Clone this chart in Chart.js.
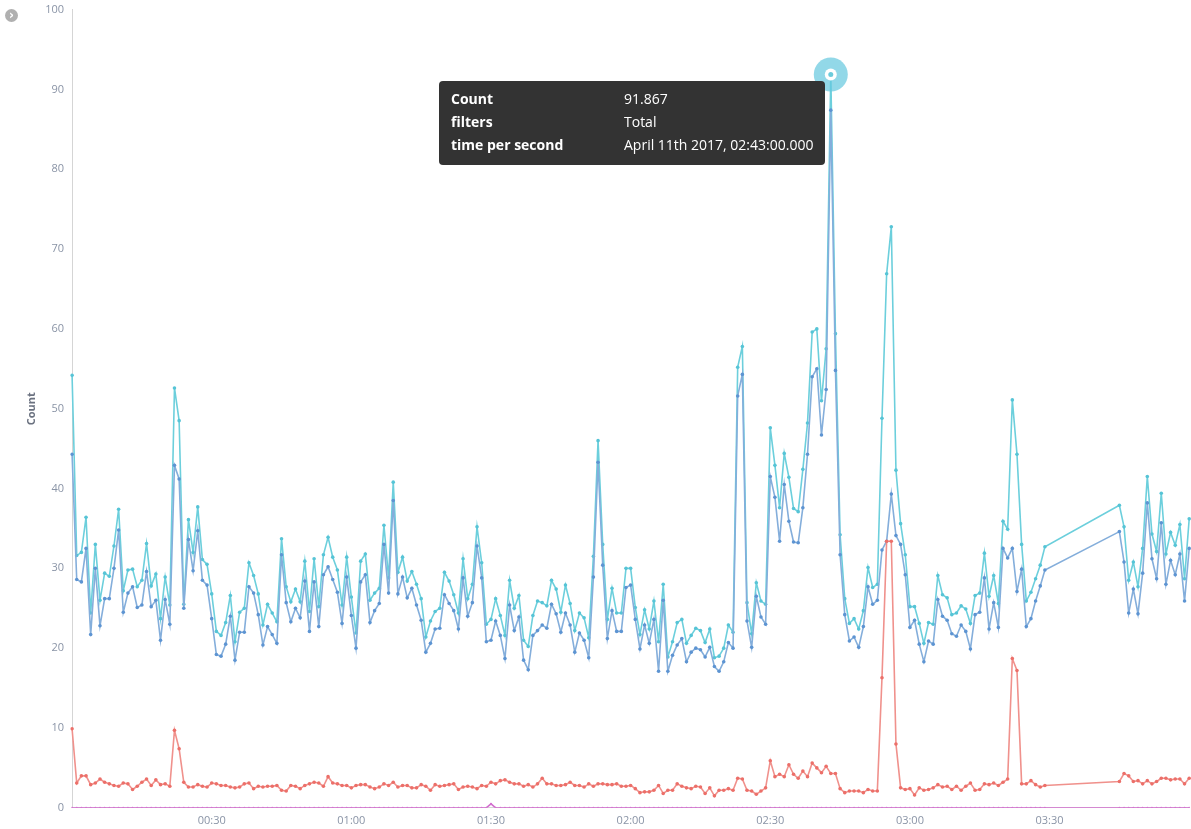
<!DOCTYPE html>
<html>
<head>
<meta charset="utf-8">
<script src="https://cdn.jsdelivr.net/npm/chart.js@4/dist/chart.umd.min.js"></script>
<style>
  html, body { margin: 0; padding: 0; background: #fff; }
  #wrap { position: relative; width: 1191px; height: 829px; }
  #toggle { position: absolute; left: 5px; top: 9px; width: 13px; height: 13px; border-radius: 50%;
    background: #b0b0b0; color: #fff; font: bold 12px "DejaVu Sans", sans-serif; text-align: center; line-height: 12px; }
</style>
</head>
<body>
<div id="wrap">
  <canvas id="myChart" width="1191" height="829"></canvas>
  <div id="toggle">&#8250;</div>
</div>
<script>
// one value per minute, 00:00 -> 04:00, null = no data
const total = [
  54.2,31.6,32,36.4,24.4,33,26,29.4,29,32.8, 37.4,27.2,29.8,29.9,27.7,28.5,33.1,27.8,29.3,23.7,
  28.9,25.4,52.6,48.5,25.5,36.1,32,37.7,31.1,30.5, 26.8,22.1,21.6,23.2,26.6,20.8,24.5,25,30.7,29.1,
  26.8,22.9,25.5,
  24.4,23.3,33.7,27.7,25.8,27.4,25.8,30.9,24.6,31.2, 25.2,31.7,33.9,31.4,29.8,25.4,31.4,26.4,21.9,30.9,
  31.8,26,26.9,27.5,35.4,28.8,40.8,29.5,31.4,28.4, 29.6,28,26.2,21.4,23.4,24.6,25,29.5,28.4,26.7,24.4,
  31.2,26.2,28,35.2,30.7,23,23.6,26.2,24.1,21.6, 28.5,25,26.6,21,20.2,24.1,25.9,25.7,25.3,28.5,
  27.4,24.5,27.9,25.6,22.2,24.4,23.8,21.3,31.5,46, 33,23.6,27.5,24.4,24.4,30,30,25.1,21.7,24.8,
  22.4,25.9,
  20.8,28,18.9,20.8,23.2,23.6,20.6,21.6,22.5,22.2, 20.7,22.4,18.8,19,20,22.9,22,55.2,57.8,25.7,
  21.8,28.2,25.9,25.5,47.6,42.9,37.6,44.4,41.4,37.5, 37.1,42.4,48.2,59.6,60,51,57.5,
  91.867,59.4,34.2,
  26.2,23.1,23.7,22.4,24.7,30.1,27.6,28,48.8,66.9, 72.8,42.3,35.6,31.7,25.2,25.2,23.1,20.6,23.2,23,
  29.1,26.7,26.3,24.2,24.4,25.3,24.9,23.1,26.6,26.9, 31.9,26.5,29.1,25.6,35.9,
  34.9,51.1,44.3,33,25.9,27,28.7,30.4,32.7,
  null,null,null,null,null,null,null,null,null,null,null,null,null,null,null,
  37.9,35.2,28.5,30.8,27.7,32.5,41.5,34.3,32.1,39.4,31.8,34.5,32.9,35.5,28.7,36.2
];
const success = [
  44.3,28.6,28.3,32.5,21.7,30,22.8,26.2,26.2,30, 34.8,24.5,26.9,27.7,25.1,25.4,29.6,25.2,26,21,
  26.1,23,42.9,41.2,25,33.6,29.7,34.7,28.5,27.9, 23.7,19.2,19,20.5,24,18.5,22,22,27.7,26.9,
  24.2,20.4,22.7,
  21.7,20.6,31.7,25.7,23.3,25,23.8,28.4,22.1,28.3, 22.7,29.2,30.2,28.6,27,23.1,28.9,24.1,20,28.3,
  29.2,23.2,24.7,25.6,33,26.9,38.5,26.8,28.9,26.3, 27.5,25.4,23.5,19.5,20.6,22.4,22.5,26.7,25.6,24.7,22.4,
  28.8,24,25.7,32.8,28.8,20.8,21,23.4,21.6,18.7, 25.4,22.2,23.9,18.5,17.3,21.6,22.2,22.9,22.5,25.5,
  24.3,22,24.4,22.9,19.5,21.9,21,18.8,28.9,43.3, 30.4,21.2,24.7,22.1,22.1,27.6,27.9,23.6,19.9,22.9,
  20.6,23.6,
  17.1,26,17.1,19.1,20.4,21.2,18.3,19.5,20,19.8, 18.9,20.1,17.7,17.1,18.3,20.7,20,51.6,54.3,23.4,
  20.1,26.5,23.9,23,41.5,38.9,33.4,40.5,35.9,33.3, 33.2,37.6,44.3,54,55,46.7,52.4,
  87.4,54.8,31.7,
  24.2,20.9,21.4,20.1,22.7,27.7,25.5,26,32.3,33.4, 39.3,34.1,33,29.2,22.6,23.5,20.5,18.3,20.9,20.5,
  26.1,24,23.5,21.8,21.5,22.9,22.1,19.9,24.2,24.5, 28.8,22.4,25.7,22.6,32.5,
  31.3,32.5,27.1,29.9,22.7,23.7,25.9,27.8,29.8,
  null,null,null,null,null,null,null,null,null,null,null,null,null,null,null,
  34.6,30.8,24.4,27.4,24.3,29.4,38.2,31.2,28.7,35.7,28,31,29.2,31.8,25.9,32.5
];
const errors = [
  9.9,3.1,4,4,2.9,3.1,3.6,3.2,3,2.8, 2.7,3.1,3,2.3,2.7,3.2,3.6,2.8,3.5,2.9,
  3,2.7,9.7,7.4,3.2,2.6,2.6,2.9,2.7,2.6, 3.1,3,2.8,2.8,2.6,2.5,2.6,3,3.1,2.4,
  2.7,2.6,2.7,
  2.7,2.8,2.2,2.1,2.8,2.7,2.4,2.8,3.0,3.2, 3.1,2.7,3.9,3.1,3.0,2.8,2.8,2.5,2.8,2.9,
  2.9,2.6,2.4,2.6,3.0,2.8,3.2,2.6,2.8,2.8, 2.5,2.5,2.9,2.7,2.2,2.9,2.7,2.8,2.9,3.0,2.3,
  2.6,2.7,2.6,2.4,2.8,2.7,3.2,3.0,3.4,3.5, 3.2,3.0,3.0,2.7,2.9,2.6,3.0,3.7,3.0,3.0,
  2.8,2.8,2.9,3.2,2.8,2.8,2.6,3.0,2.7,3.0, 3.0,2.9,2.9,3.0,2.7,2.7,2.8,2.4,1.9,2.0,
  2.0,2.2,
  2.8,1.8,2.2,2.2,3.0,2.7,2.5,2.4,2.7,2.6, 1.8,2.5,1.5,2.2,2.2,2.4,2.2,3.7,3.6,2.2,
  2.1,1.7,2.1,2.5,5.9,3.9,4.2,3.9,5.4,4.2, 3.7,4.6,3.9,5.6,5.0,4.4,5.2,4.3,4.3,2.4,
  1.9,2.1,2.1,2.1,1.9,2.3,2.1,2.1,16.3,33.4, 33.4,8,2.5,2.3,2.4,1.6,2.5,2.2,2.3,2.5,
  2.9,2.6,2.7,2.3,2.7,2.2,2.7,3.1,2.2,2.3, 3,2.9,3.1,2.8,3.2,
  3.6,18.7,17.2,3,3,3.4,2.9,2.6,2.8,
  null,null,null,null,null,null,null,null,null,null,null,null,null,null,null,
  3.3,4.3,4,3.3,3.4,3,3.4,3,3.3,3.7,3.7,3.5,3.6,3.6,3,3.7
];
const timeouts = [
  0,0,0,0,0,0,0,0,0,0, 0,0,0,0,0,0,0,0,0,0, 0,0,0,0,0,0,0,0,0,0, 0,0,0,0,0,0,0,0,0,0,
  0,0,0,0,0,0,0,0,0,0, 0,0,0,0,0,0,0,0,0,0, 0,0,0,0,0,0,0,0,0,0, 0,0,0,0,0,0,0,0,0,0,
  0,0,0,0,0,0,0,0,0,0, 0.5,0,0,0,0,0,0,0,0,0, 0,0,0,0,0,0,0,0,0,0, 0,0,0,0,0,0,0,0,0,0,
  0,0,0,0,0,0,0,0,0,0, 0,0,0,0,0,0,0,0,0,0, 0,0,0,0,0,0,0,0,0,0, 0,0,0,0,0,0,0,0,0,0,
  0,0,0,0,0,0,0,0,0,0, 0,0,0,0,0,0,0,0,0,0, 0,0,0,0,0,0,0,0,0,0, 0,0,0,0,0,0,0,0,0,0,
  0,0,0,0,0,0,0,0,0,0,
  null,null,null,null,null,null,null,null,null,null,null,null,null,null,null,
  0,0,0,0,0,0,0,0,0,0,0,0,0,0,0,0
];
const tickLabels = ['00:30', '01:00', '01:30', '02:00', '02:30', '03:00', '03:30'];
const peakIndex = 163;
const tipRows = [
  ['Count', '91.867'],
  ['filters', 'Total'],
  ['time per second', 'April 11th 2017, 02:43:00.000']
];

// category labels, one per minute
const labels = [];
for (let i = 0; i < total.length; i++) {
  const h = Math.floor(i / 60), m = i % 60;
  labels.push(String(h).padStart(2, '0') + ':' + String(m).padStart(2, '0'));
}

function series(label, data, line, dot, radius) {
  return {
    label: label, data: data, borderColor: line, backgroundColor: dot,
    pointBackgroundColor: dot, pointBorderColor: dot, pointBorderWidth: 0,
    borderWidth: 1.6, pointRadius: radius, pointHoverRadius: radius,
    tension: 0, spanGaps: true
  };
}

// highlighted point + fixed tooltip box
const peakTip = {
  id: 'peakTip',
  afterDatasetsDraw(chart) {
    const ctx = chart.ctx;
    const pt = chart.getDatasetMeta(3).data[peakIndex];
    ctx.save();
    ctx.beginPath();
    ctx.arc(pt.x, pt.y, 17, 0, Math.PI * 2);
    ctx.fillStyle = 'rgba(100, 200, 222, 0.7)';
    ctx.fill();
    ctx.beginPath();
    ctx.arc(pt.x, pt.y, 6, 0, Math.PI * 2);
    ctx.fillStyle = '#fff';
    ctx.fill();
    ctx.beginPath();
    ctx.arc(pt.x, pt.y, 2.5, 0, Math.PI * 2);
    ctx.fillStyle = '#6bcbdb';
    ctx.fill();

    const bx = 439, by = 81, bw = 386, bh = 84;
    ctx.fillStyle = '#333333';
    ctx.beginPath();
    ctx.roundRect(bx, by, bw, bh, 4);
    ctx.fill();
    ctx.fillStyle = '#fff';
    ctx.textBaseline = 'middle';
    tipRows.forEach((r, i) => {
      const y = by + 19 + i * 23;
      ctx.font = 'bold 14px "Open Sans", sans-serif';
      ctx.fillText(r[0], bx + 12, y);
      ctx.font = '14px "Open Sans", sans-serif';
      ctx.fillText(r[1], bx + 185, y);
    });
    ctx.restore();
  }
};

new Chart(document.getElementById('myChart'), {
  type: 'line',
  data: {
    labels: labels,
    datasets: [
      series('Timeouts', timeouts, '#d36fcf', '#d36fcf', 1),
      series('Errors', errors, '#f0918c', '#ec6f69', 1.8),
      series('Success', success, '#84aedb', '#5d94d2', 1.8),
      series('Total', total, '#6ccfdc', '#56c4d6', 1.8)
    ]
  },
  options: {
    responsive: false,
    animation: false,
    layout: { padding: { top: 6, right: 1, left: 21, bottom: 0 } },
    plugins: { legend: { display: false }, tooltip: { enabled: false } },
    scales: {
      x: {
        offset: false,
        grid: { display: false, drawTicks: true, tickLength: 4, color: '#d5d5d5' },
        border: { color: '#d5d5d5' },
        ticks: {
          autoSkip: false, maxRotation: 0, color: '#8a94a6', padding: 2,
          font: { family: '"Open Sans", sans-serif', size: 11 },
          callback: function (v, i) {
            const l = labels[i];
            return tickLabels.includes(l) ? l : null;
          }
        }
      },
      y: {
        min: 0, max: 100,
        grid: { display: false, drawTicks: true, tickLength: 5, color: '#d5d5d5' },
        border: { color: '#d5d5d5' },
        ticks: { stepSize: 10, color: '#8a94a6', font: { family: '"Open Sans", sans-serif', size: 11 } },
        title: { display: true, text: 'Count', color: '#6b7280', font: { family: '"Open Sans", sans-serif', size: 11, weight: 'bold' } }
      }
    }
  },
  plugins: [peakTip]
});
</script>
</body>
</html>
